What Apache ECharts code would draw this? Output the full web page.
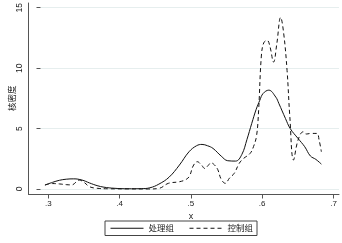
<!DOCTYPE html>
<html>
<head>
<meta charset="utf-8">
<script src="https://cdn.jsdelivr.net/npm/echarts@6/dist/echarts.min.js"></script>
<style>
html,body{margin:0;padding:0;background:#fff;}
#c{width:342px;height:243px;}
</style>
</head>
<body>
<div id="c"></div>
<script>
// ---- data ----
var seriesNames = ['处理组', '控制组'];
var treatX = [0.279,0.29,0.30,0.31,0.321,0.333,0.344,0.355,0.365,0.38,0.40,0.42,0.432,0.445,0.46,0.475,0.489,0.50,0.508,0.516,0.524,0.536,0.5455,0.557,0.566,0.5735,0.5805,0.587,0.5923,0.597,0.6053,0.6156,0.620,0.6296,0.6366,0.648,0.6577,0.666,0.674,0.682];
var treatY = [0.33,0.55,0.72,0.81,0.84,0.74,0.50,0.28,0.15,0.06,0.02,0.03,0.10,0.40,0.98,1.98,3.08,3.58,3.69,3.58,3.36,2.72,2.34,2.31,2.85,4.1,5.43,6.6,7.35,7.9,8.18,7.6,7.08,5.84,5.0,4.18,3.5,2.73,2.45,2.06];
var ctrlX = [0.279,0.29,0.30,0.31,0.318,0.329,0.336,0.344,0.355,0.37,0.40,0.43,0.445,0.459,0.475,0.485,0.49,0.495,0.501,0.507,0.512,0.517,0.521,0.526,0.531,0.536,0.542,0.548,0.555,0.562,0.568,0.578,0.583,0.5875,0.5905,0.5945,0.598,0.603,0.607,0.6123,0.617,0.6226,0.627,0.632,0.636,0.6414,0.648,0.6554,0.66,0.667,0.6755,0.6787,0.682];
var ctrlY = [0.33,0.45,0.42,0.36,0.34,0.74,0.55,0.19,0.06,0.02,0.01,0.0,0.05,0.47,0.6,0.8,1.1,1.9,2.26,2.0,1.7,1.95,2.17,2.0,1.6,0.8,0.47,0.9,1.3,2.1,2.5,2.94,3.5,4.4,6.5,11.0,12.1,12.3,11.8,10.5,12.0,14.2,12.9,9.8,6.0,2.4,4.05,4.73,4.55,4.6,4.6,4.05,3.08];
var yTicks = [0, 5, 10, 15];
var xTickLabels = ['.3', '.4', '.5', '.6', '.7'];
var yName = '核密度';
var xName = 'x';

function pairs(xs, ys) { return xs.map(function (x, i) { return [x, ys[i]]; }); }

var FONT = '"Liberation Sans", "Noto Sans CJK SC", sans-serif';
var TXT = '#222';
var AX = '#555';
var XMIN = 0.2725, XMAX = 0.7077;

var chart = echarts.init(document.getElementById('c'), null, {renderer: 'canvas'});
chart.setOption({
  animation: false,
  backgroundColor: '#fff',
  textStyle: {fontFamily: FONT},
  grid: [
    {left: 28.7, right: 3, top: 7.3, bottom: 54, containLabel: false},   // data grid (0..15)
    {left: 28.7, right: 3, top: 3, bottom: 48.5, containLabel: false},   // axis lines frame
    {left: 48.3, right: 8.5, top: 3, bottom: 48.5, containLabel: false}  // x ticks .3 .. .7
  ],
  xAxis: [
    {gridIndex: 0, type: 'value', min: XMIN, max: XMAX, show: false},
    {gridIndex: 1, type: 'value', min: 0, max: 1, axisLine: {show: true, lineStyle: {color: AX, width: 1}},
     axisTick: {show: false}, axisLabel: {show: false}, splitLine: {show: false}},
    {gridIndex: 2, type: 'value', min: 0.3, max: 0.7, interval: 0.1,
     axisLine: {show: false},
     axisTick: {show: true, length: 4, lineStyle: {color: AX}},
     axisLabel: {show: true, margin: 5, fontSize: 8, color: TXT, fontFamily: FONT,
       formatter: function (v) { var i = Math.round((v - 0.3) / 0.1); return xTickLabels[i] || ''; }},
     splitLine: {show: false},
     name: xName, nameLocation: 'middle', nameGap: 16,
     nameTextStyle: {fontSize: 9, color: TXT, fontFamily: FONT}}
  ],
  yAxis: [
    {gridIndex: 0, type: 'value', min: yTicks[0], max: yTicks[yTicks.length - 1], interval: 5,
     axisLine: {show: false},
     axisTick: {show: true, length: 4, lineStyle: {color: AX}},
     axisLabel: {show: false},
     splitLine: {show: true, lineStyle: {color: '#e6eeee', width: 1}},
     name: yName, nameLocation: 'middle', nameRotate: 90, nameGap: 24,
     nameTextStyle: {fontSize: 8.5, color: TXT, fontFamily: FONT}},
    {gridIndex: 1, type: 'value', min: 0, max: 1, axisLine: {show: true, lineStyle: {color: AX, width: 1}},
     axisTick: {show: false}, axisLabel: {show: false}, splitLine: {show: false}},
    {gridIndex: 2, type: 'value', min: 0, max: 1, show: false},
    {gridIndex: 0, type: 'value', min: yTicks[0], max: yTicks[yTicks.length - 1], interval: 5,
     position: 'left', offset: 17,
     axisLine: {show: false}, axisTick: {show: false}, splitLine: {show: false},
     axisLabel: {show: true, rotate: 90, margin: 0, fontSize: 8.5, color: TXT, fontFamily: FONT}}
  ],
  legend: {
    left: 105, top: 221,
    orient: 'horizontal',
    data: seriesNames,
    itemWidth: 33, itemHeight: 8, itemGap: 15,
    padding: [3, 4, 3, 5],
    borderColor: '#444', borderWidth: 1, borderRadius: 0,
    itemStyle: {opacity: 0},
    lineStyle: {width: 1},
    textStyle: {fontSize: 8.5, color: TXT, fontFamily: FONT}
  },
  series: [
    {name: seriesNames[0], type: 'line', xAxisIndex: 0, yAxisIndex: 0,
     data: pairs(treatX, treatY), smooth: 0.4, symbol: 'none', clip: false,
     lineStyle: {color: '#111', width: 1, type: 'solid'}, itemStyle: {color: '#111'}},
    {name: seriesNames[1], type: 'line', xAxisIndex: 0, yAxisIndex: 0,
     data: pairs(ctrlX, ctrlY), smooth: 0.4, symbol: 'none', clip: false,
     lineStyle: {color: '#111', width: 1, type: [4, 3]}, itemStyle: {color: '#111'}}
  ]
});
</script>
</body>
</html>
